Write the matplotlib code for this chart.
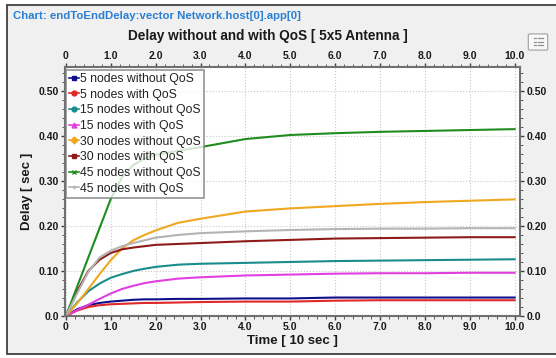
import numpy as np
import matplotlib
matplotlib.use('Agg')
import matplotlib.pyplot as plt
from matplotlib.lines import Line2D
from matplotlib.patches import Rectangle, FancyBboxPatch
from matplotlib.ticker import MultipleLocator, FixedLocator, FixedFormatter

plt.rcParams['font.family'] = ['Liberation Sans', 'DejaVu Sans']

# time axis [10 sec] and delay values [sec]
t = [0, 0.25, 0.5, 0.75, 1, 1.25, 1.5, 1.75, 2, 2.5, 3, 4, 5, 6, 7, 8, 9, 10]

n5_noqos = [0, 0.015, 0.024, 0.029, 0.032, 0.034, 0.036, 0.037, 0.037, 0.038, 0.038, 0.039, 0.039, 0.041, 0.041, 0.041, 0.041, 0.041]
n5_qos = [0, 0.012, 0.020, 0.024, 0.026, 0.027, 0.028, 0.029, 0.029, 0.030, 0.031, 0.032, 0.032, 0.034, 0.035, 0.035, 0.035, 0.035]
n15_noqos = [0, 0.030, 0.055, 0.072, 0.085, 0.093, 0.100, 0.105, 0.109, 0.114, 0.116, 0.118, 0.120, 0.122, 0.123, 0.124, 0.125, 0.126]
n15_qos = [0, 0.013, 0.025, 0.038, 0.050, 0.060, 0.067, 0.073, 0.077, 0.083, 0.086, 0.090, 0.092, 0.094, 0.095, 0.095, 0.096, 0.096]
n30_noqos = [0, 0.028, 0.060, 0.093, 0.124, 0.150, 0.168, 0.180, 0.190, 0.207, 0.216, 0.232, 0.239, 0.244, 0.249, 0.253, 0.256, 0.259]
n30_qos = [0, 0.055, 0.100, 0.125, 0.140, 0.148, 0.152, 0.155, 0.158, 0.160, 0.162, 0.166, 0.169, 0.172, 0.173, 0.174, 0.175, 0.175]
n45_noqos = [0, 0.065, 0.130, 0.195, 0.260, 0.308, 0.335, 0.350, 0.358, 0.367, 0.375, 0.393, 0.402, 0.406, 0.409, 0.411, 0.413, 0.415]
n45_qos = [0, 0.050, 0.098, 0.130, 0.145, 0.155, 0.162, 0.168, 0.174, 0.180, 0.184, 0.188, 0.191, 0.193, 0.194, 0.194, 0.195, 0.195]

labels = ['5 nodes without QoS', '5 nodes with QoS', '15 nodes without QoS', '15 nodes with QoS',
          '30 nodes without QoS', '30 nodes with QoS', '45 nodes without QoS', '45 nodes with QoS']
colors = ['#10108a', '#e02828', '#1a8c8c', '#e040e0', '#f0a820', '#8e1a1a', '#1e8c1e', '#b4b4b4']
markers = ['s', 'o', 'o', '^', 'D', 's', 'x', '+']
series = [n5_noqos, n5_qos, n15_noqos, n15_qos, n30_noqos, n30_qos, n45_noqos, n45_qos]

x_ticks = [0, 1, 2, 3, 4, 5, 6, 7, 8, 9, 10]
x_ticklabels = ['0', '1.0', '2.0', '3.0', '4.0', '5.0', '6.0', '7.0', '8.0', '9.0', '10.0']
y_ticks = [0, 0.1, 0.2, 0.3, 0.4, 0.5]
y_ticklabels = ['0.0', '0.10', '0.20', '0.30', '0.40', '0.50']

W, H = 556, 358
fig = plt.figure(figsize=(W / 100, H / 100), dpi=100, facecolor='white')

# outer panel
fig.patches.append(Rectangle((7 / W, 4 / H), 550 / W, 349 / H, transform=fig.transFigure,
                             facecolor='#f0f0f0', edgecolor='#404040', lw=1.3, zorder=0))
fig.text(13 / W, 1 - 16 / H, 'Chart: endToEndDelay:vector Network.host[0].app[0]',
         color='#2a7fd4', fontsize=8.2, fontweight='bold', va='center', ha='left')

# small list icon at top right
fig.patches.append(FancyBboxPatch((530 / W, 1 - 49 / H), 16 / W, 14 / H, transform=fig.transFigure,
                                  boxstyle='round,pad=0.003', facecolor='#f8f8f8', edgecolor='#a8a8a8', lw=0.9))
for k in range(3):
    yy = 1 - (38 + 3.5 * k) / H
    fig.lines.append(Line2D([534 / W, 536 / W], [yy, yy], transform=fig.transFigure, color='#909090', lw=0.9))
    fig.lines.append(Line2D([538 / W, 543 / W], [yy, yy], transform=fig.transFigure, color='#909090', lw=0.9))

ax = fig.add_axes([65 / W, 1 - 316 / H, 455 / W, 249 / H])
ax.set_zorder(5)
ax.set_facecolor('white')

for y, c in zip(series, colors):
    ax.plot(t, y, color=c, lw=1.5)

ax.set_xlim(-0.02, 10.12)
ax.set_ylim(0, 0.553)

ax.xaxis.set_major_locator(FixedLocator(x_ticks))
ax.xaxis.set_major_formatter(FixedFormatter(x_ticklabels))
ax.xaxis.set_minor_locator(MultipleLocator(0.2))
ax.yaxis.set_major_locator(FixedLocator(y_ticks))
ax.yaxis.set_major_formatter(FixedFormatter(y_ticklabels))
ax.yaxis.set_minor_locator(MultipleLocator(0.02))

ax.tick_params(which='both', direction='out', top=True, right=True,
               labeltop=True, labelright=True, color='#404040')
ax.tick_params(which='major', length=3, width=1, labelsize=7.5, pad=1.5, labelcolor='#1a1a1a')
ax.tick_params(which='minor', length=2, width=0.6)
plt.setp(ax.xaxis.get_majorticklabels(), fontweight='bold')
plt.setp(ax.yaxis.get_majorticklabels(), fontweight='bold')

for s in ax.spines.values():
    s.set_color('#707070')
    s.set_linewidth(1.5)

ax.grid(True, which='major', color='#c8c8c8', linestyle=':', lw=0.8)

ax.set_xlabel('Time [ 10 sec ]', fontsize=9.5, fontweight='bold', labelpad=2, color='#1a1a1a')
ax.set_ylabel('Delay [ sec ]', fontsize=9.5, fontweight='bold', labelpad=4, color='#1a1a1a')
fig.text(268 / W, 1 - 36 / H, 'Delay without and with QoS [ 5x5 Antenna ]',
         fontsize=9.8, fontweight='bold', ha='center', va='center', color='#1a1a1a')

handles = [Line2D([0], [0], color=c, lw=1.2, marker=m, markersize=3.5, markeredgewidth=1)
           for c, m in zip(colors, markers)]
leg = ax.legend(handles, labels, loc='upper left', bbox_to_anchor=(0.003, 0.988), fontsize=8.8,
                handlelength=0.8, handletextpad=0.1, borderpad=0.25, labelspacing=0.3,
                frameon=True, fancybox=False, borderaxespad=0.0)
leg.get_frame().set_edgecolor('#7a7a7a')
leg.get_frame().set_linewidth(1.2)
for txt in leg.get_texts():
    txt.set_color('#222222')

fig.savefig('out.png', dpi=100)
